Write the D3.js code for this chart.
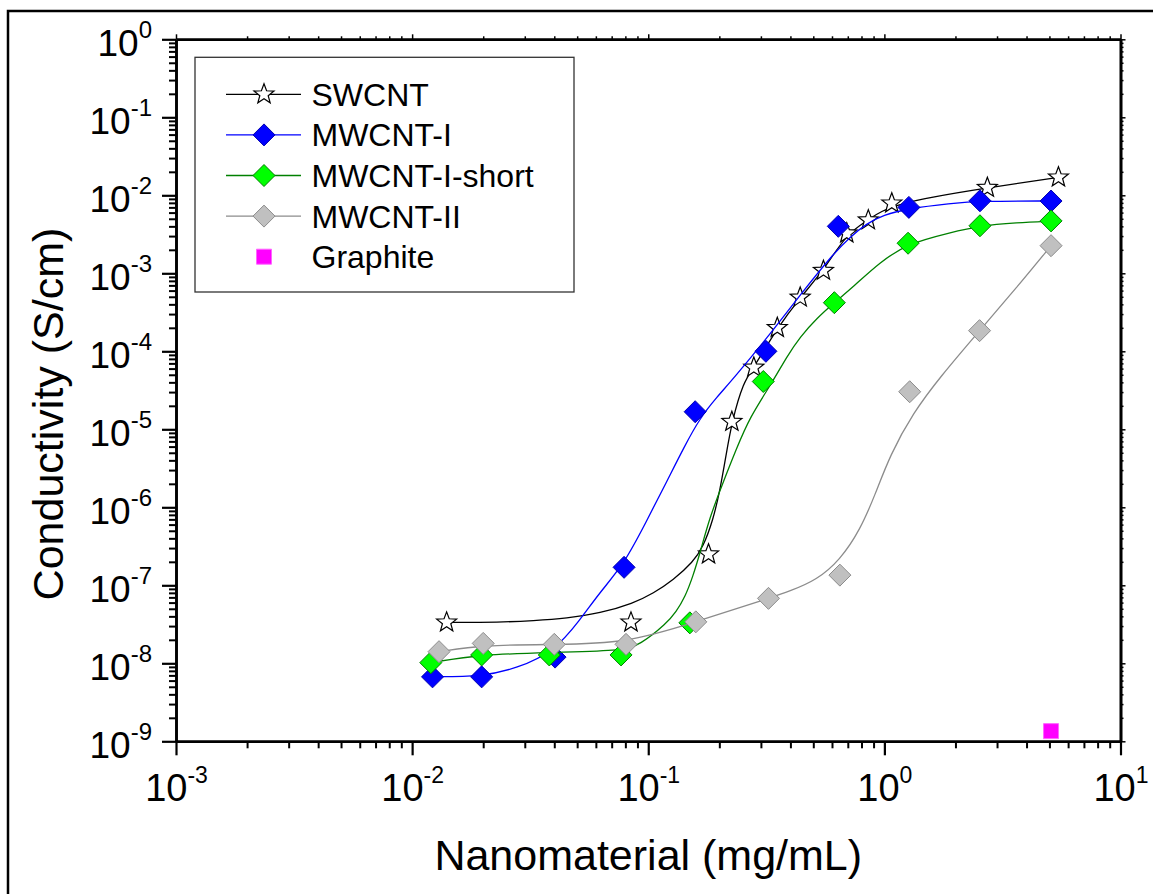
<!DOCTYPE html>
<html>
<head>
<meta charset="utf-8">
<script src="https://cdn.jsdelivr.net/npm/d3@7"></script>
<style>
  body { margin: 0; background: #fff; }
  svg { display: block; }
  text { font-family: "Liberation Sans", Arial, Helvetica, sans-serif; fill: #000; }
</style>
</head>
<body>
<svg id="chart" width="1153" height="894"></svg>
<script>
// ---- measured points (concentration in mg/mL, conductivity in S/cm) ----
const swcntX = [0.0140, 0.0845, 0.180, 0.226, 0.280, 0.352, 0.440, 0.552, 0.693, 0.855, 1.075, 2.73, 5.46];
const swcntY = [3.35e-8, 3.35e-8, 2.5e-7, 1.25e-5, 6.2e-5, 2.0e-4, 4.9e-4, 1.08e-3, 3.26e-3, 4.8e-3, 7.9e-3, 1.25e-2, 1.7e-2];

const mwcnt1X = [0.0122, 0.0197, 0.0403, 0.079, 0.158, 0.315, 0.638, 1.27, 2.54, 5.08];
const mwcnt1Y = [6.7e-9, 6.7e-9, 1.2e-8, 1.7e-7, 1.68e-5, 1.0e-4, 4.0e-3, 7.0e-3, 8.5e-3, 8.45e-3];

const mwcnt1sX = [0.0120, 0.0197, 0.0381, 0.0767, 0.150, 0.307, 0.614, 1.26, 2.54, 5.08];
const mwcnt1sY = [1.02e-8, 1.28e-8, 1.28e-8, 1.28e-8, 3.3e-8, 4.1e-5, 4.2e-4, 2.43e-3, 4.07e-3, 4.7e-3];

const mwcnt2X = [0.0130, 0.0200, 0.0400, 0.0805, 0.159, 0.323, 0.648, 1.28, 2.53, 5.08];
const mwcnt2Y = [1.41e-8, 1.8e-8, 1.75e-8, 1.75e-8, 3.4e-8, 6.8e-8, 1.35e-7, 3.03e-5, 1.84e-4, 2.26e-3];

const graphiteX = [5.08];
const graphiteY = [1.35e-9];

// ---- fitted trend curves ----
const swcntFitX = [0.0140, 0.0236, 0.0326, 0.0452, 0.0625, 0.0865, 0.1051, 0.1277, 0.1548, 0.1707, 0.1882, 0.2014, 0.2136, 0.226, 0.2529, 0.280, 0.352, 0.440, 0.552, 0.693, 0.855, 1.075, 2.73, 5.46];
const swcntFitY = [3.35e-8, 3.35e-8, 3.52e-8, 3.78e-8, 4.38e-8, 5.88e-8, 7.9e-8, 1.17e-7, 1.99e-7, 3.1e-7, 6.88e-7, 1.67e-6, 4.68e-6, 1.25e-5, 4.07e-5, 6.2e-5, 2.0e-4, 4.9e-4, 1.08e-3, 3.26e-3, 4.8e-3, 7.9e-3, 1.25e-2, 1.7e-2];

const mwcnt1FitX = [0.0122, 0.0197, 0.0278, 0.0399, 0.0514, 0.0625, 0.0790, 0.0979, 0.1201, 0.1418, 0.1657, 0.1956, 0.2287, 0.3186, 0.4395, 0.6064, 0.7159, 0.8367, 0.9874, 1.272, 1.898, 2.543, 5.082];
const mwcnt1FitY = [6.73e-9, 6.73e-9, 8.63e-9, 1.41e-8, 3.59e-8, 8.21e-8, 1.875e-7, 6.48e-7, 2.17e-6, 5.93e-6, 1.40e-5, 2.60e-5, 4.41e-5, 1.48e-4, 5.27e-4, 1.77e-3, 2.92e-3, 4.29e-3, 5.59e-3, 6.77e-3, 7.85e-3, 8.45e-3, 8.45e-3];

const mwcnt1sFitX = [0.0120, 0.0197, 0.0381, 0.0767, 0.0923, 0.1197, 0.1311, 0.1432, 0.1548, 0.1657, 0.1823, 0.2070, 0.2350, 0.2693, 0.3336, 0.3860, 0.4395, 0.5173, 0.6141, 0.7390, 0.9590, 1.264, 1.898, 2.543, 3.637, 5.082];
const mwcnt1sFitY = [1.02e-8, 1.30e-8, 1.37e-8, 1.44e-8, 1.72e-8, 3.26e-8, 4.55e-8, 7.08e-8, 1.32e-7, 2.60e-7, 7.51e-7, 2.05e-6, 5.43e-6, 1.44e-5, 3.89e-5, 8.52e-5, 1.53e-4, 2.65e-4, 4.22e-4, 6.73e-4, 1.40e-3, 2.42e-3, 3.32e-3, 4.08e-3, 4.45e-3, 4.68e-3];

const mwcnt2FitX = [0.0130, 0.0200, 0.0400, 0.0805, 0.159, 0.323, 0.399, 0.517, 0.649, 0.789, 0.913, 1.057, 1.323, 1.721, 2.53, 3.65, 5.08];
const mwcnt2FitY = [1.41e-8, 1.72e-8, 1.74e-8, 1.80e-8, 3.39e-8, 6.8e-8, 8.45e-8, 1.17e-7, 2.11e-7, 5.12e-7, 1.44e-6, 4.69e-6, 1.62e-5, 4.69e-5, 1.84e-4, 6.67e-4, 2.26e-3];

// ---- axes ----
const xMajor = [1e-3, 1e-2, 1e-1, 1, 10];
const xExponents = ["-3", "-2", "-1", "0", "1"];
const yMajor = [1e-9, 1e-8, 1e-7, 1e-6, 1e-5, 1e-4, 1e-3, 1e-2, 1e-1, 1];
const yExponents = ["-9", "-8", "-7", "-6", "-5", "-4", "-3", "-2", "-1", "0"];
const minorFactors = [2, 3, 4, 5, 6, 7, 8, 9];

const seriesNames = ["SWCNT", "MWCNT-I", "MWCNT-I-short", "MWCNT-II", "Graphite"];
const xTitle = "Nanomaterial (mg/mL)";
const yTitle = "Conductivity (S/cm)";

const svg = d3.select("#chart");
const plotLeft = 176, plotRight = 1120.5, plotTop = 39.3, plotBottom = 741.3;

const x = d3.scaleLog().domain([1e-3, 10]).range([plotLeft, plotRight]);
const y = d3.scaleLog().domain([1e-9, 1]).range([plotBottom, plotTop]);

function minorTicks(majors) {
  const out = [];
  majors.slice(0, -1).forEach(m => minorFactors.forEach(f => out.push(m * f)));
  return out;
}
const xMinor = minorTicks(xMajor);
const yMinor = minorTicks(yMajor);

// outer frame
svg.append("rect")
  .attr("x", 8).attr("y", 11).attr("width", 1170).attr("height", 910)
  .attr("fill", "none").attr("stroke", "#000").attr("stroke-width", 2.5);

function styleAxis(g, width) {
  g.select(".domain").attr("stroke", "#000").attr("stroke-width", 2.6);
  g.selectAll(".tick line").attr("stroke", "#000").attr("stroke-width", width);
}

// bottom axis
const gxMinor = svg.append("g").attr("transform", `translate(0,${plotBottom})`)
  .call(d3.axisBottom(x).tickValues(xMinor).tickSize(7).tickSizeOuter(0).tickFormat(""));
styleAxis(gxMinor, 2);
const gx = svg.append("g").attr("transform", `translate(0,${plotBottom})`)
  .call(d3.axisBottom(x).tickValues(xMajor).tickSize(14).tickSizeOuter(0).tickFormat(""));
styleAxis(gx, 2.2);
gx.selectAll(".tick text").remove();
gx.selectAll(".tick").each(function(d, i) {
  const t = d3.select(this).append("text")
    .attr("x", 0).attr("y", 59.5)
    .attr("text-anchor", "middle")
    .style("font-size", "38px");
  t.append("tspan").text("10");
  t.append("tspan").attr("dy", -18).style("font-size", "23px").text(xExponents[i]);
});

// top axis (ticks only)
const gtMinor = svg.append("g").attr("transform", `translate(0,${plotTop})`)
  .call(d3.axisTop(x).tickValues(xMinor).tickSize(3).tickSizeOuter(0).tickFormat(""));
styleAxis(gtMinor, 1.5);
const gt = svg.append("g").attr("transform", `translate(0,${plotTop})`)
  .call(d3.axisTop(x).tickValues(xMajor).tickSize(5).tickSizeOuter(0).tickFormat(""));
styleAxis(gt, 1.5);

// left axis
const gyMinor = svg.append("g").attr("transform", `translate(${plotLeft},0)`)
  .call(d3.axisLeft(y).tickValues(yMinor).tickSize(7).tickSizeOuter(0).tickFormat(""));
styleAxis(gyMinor, 2);
const gy = svg.append("g").attr("transform", `translate(${plotLeft},0)`)
  .call(d3.axisLeft(y).tickValues(yMajor).tickSize(14).tickSizeOuter(0).tickFormat(""));
styleAxis(gy, 2.2);
gy.selectAll(".tick text").remove();
gy.selectAll(".tick").each(function(d, i) {
  const t = d3.select(this).append("text")
    .attr("x", -24).attr("y", 15.7)
    .attr("text-anchor", "end")
    .style("font-size", "37px");
  t.append("tspan").text("10");
  t.append("tspan").attr("dy", -17.7).style("font-size", "24px").text(yExponents[i]);
});

// right axis (ticks only)
const grMinor = svg.append("g").attr("transform", `translate(${plotRight},0)`)
  .call(d3.axisRight(y).tickValues(yMinor).tickSize(3).tickSizeOuter(0).tickFormat(""));
styleAxis(grMinor, 1.5);
const gr = svg.append("g").attr("transform", `translate(${plotRight},0)`)
  .call(d3.axisRight(y).tickValues(yMajor).tickSize(5).tickSizeOuter(0).tickFormat(""));
styleAxis(gr, 1.5);

// axis titles
svg.append("text")
  .attr("x", (plotLeft + plotRight) / 2).attr("y", 870)
  .attr("text-anchor", "middle")
  .style("font-size", "43px")
  .text(xTitle);
svg.append("text")
  .attr("transform", "translate(63,414) rotate(-90)")
  .attr("text-anchor", "middle")
  .style("font-size", "43px")
  .text(yTitle);

// ---- marker shapes ----
function starPath(R, r) {
  const pts = [];
  for (let k = 0; k < 10; k++) {
    const a = -Math.PI / 2 + k * Math.PI / 5;
    const rad = k % 2 === 0 ? R : r;
    pts.push([rad * Math.cos(a), rad * Math.sin(a)]);
  }
  return "M" + pts.map(p => p[0].toFixed(2) + "," + p[1].toFixed(2)).join("L") + "Z";
}
const diamondPath = h => `M0,${-h}L${h},0L0,${h}L${-h},0Z`;
const squarePath = s => `M${-s/2},${-s/2}h${s}v${s}h${-s}Z`;

const series = [
  { name: seriesNames[0], xs: swcntX, ys: swcntY, fx: swcntFitX, fy: swcntFitY,
    line: "#000000", shape: starPath(10.5, 4.4), fill: "#ffffff", stroke: "#000000", sw: 1.2 },
  { name: seriesNames[1], xs: mwcnt1X, ys: mwcnt1Y, fx: mwcnt1FitX, fy: mwcnt1FitY,
    line: "#0000ff", shape: diamondPath(11), fill: "#0000ff", stroke: "#0000b0", sw: 1 },
  { name: seriesNames[2], xs: mwcnt1sX, ys: mwcnt1sY, fx: mwcnt1sFitX, fy: mwcnt1sFitY,
    line: "#008000", shape: diamondPath(11), fill: "#00ff00", stroke: "#008000", sw: 1 },
  { name: seriesNames[3], xs: mwcnt2X, ys: mwcnt2Y, fx: mwcnt2FitX, fy: mwcnt2FitY,
    line: "#8c8c8c", shape: diamondPath(11), fill: "#c0c0c0", stroke: "#8c8c8c", sw: 1 },
  { name: seriesNames[4], xs: graphiteX, ys: graphiteY, fx: null, fy: null,
    line: null, shape: squarePath(15), fill: "#ff00ff", stroke: "#ff66ff", sw: 1 }
];

// B-spline through the traced fit points smooths out small tracing jitter
const lineGen = d3.line()
  .x(d => x(d[0])).y(d => y(d[1]))
  .curve(d3.curveBasis);

const plot = svg.append("g");
series.forEach(s => {
  const g = plot.append("g");
  if (s.fx) {
    g.append("path")
      .datum(d3.zip(s.fx, s.fy))
      .attr("d", lineGen)
      .attr("fill", "none")
      .attr("stroke", s.line)
      .attr("stroke-width", 1.3);
  }
  g.selectAll("path.pt")
    .data(d3.zip(s.xs, s.ys))
    .join("path")
    .attr("class", "pt")
    .attr("transform", d => `translate(${x(d[0])},${y(d[1])})`)
    .attr("d", s.shape)
    .attr("fill", s.fill)
    .attr("stroke", s.stroke)
    .attr("stroke-width", s.sw);
});

// ---- legend ----
const legend = svg.append("g");
legend.append("rect")
  .attr("x", 195).attr("y", 57.3).attr("width", 379).attr("height", 234.7)
  .attr("fill", "#fff").attr("stroke", "#333").attr("stroke-width", 1.3);
const rowY = d3.scaleLinear().domain([0, 4]).range([94.3, 256.7]);
series.forEach((s, i) => {
  const cy = rowY(i);
  if (s.line) {
    legend.append("line")
      .attr("x1", 226).attr("x2", 301).attr("y1", cy).attr("y2", cy)
      .attr("stroke", s.line).attr("stroke-width", 1.3);
  }
  legend.append("path")
    .attr("transform", `translate(264,${cy})`)
    .attr("d", s.shape)
    .attr("fill", s.fill).attr("stroke", s.stroke).attr("stroke-width", s.sw);
  legend.append("text")
    .attr("x", 311.5).attr("y", cy + 11.5)
    .style("font-size", "32px")
    .text(s.name);
});
</script>
</body>
</html>
